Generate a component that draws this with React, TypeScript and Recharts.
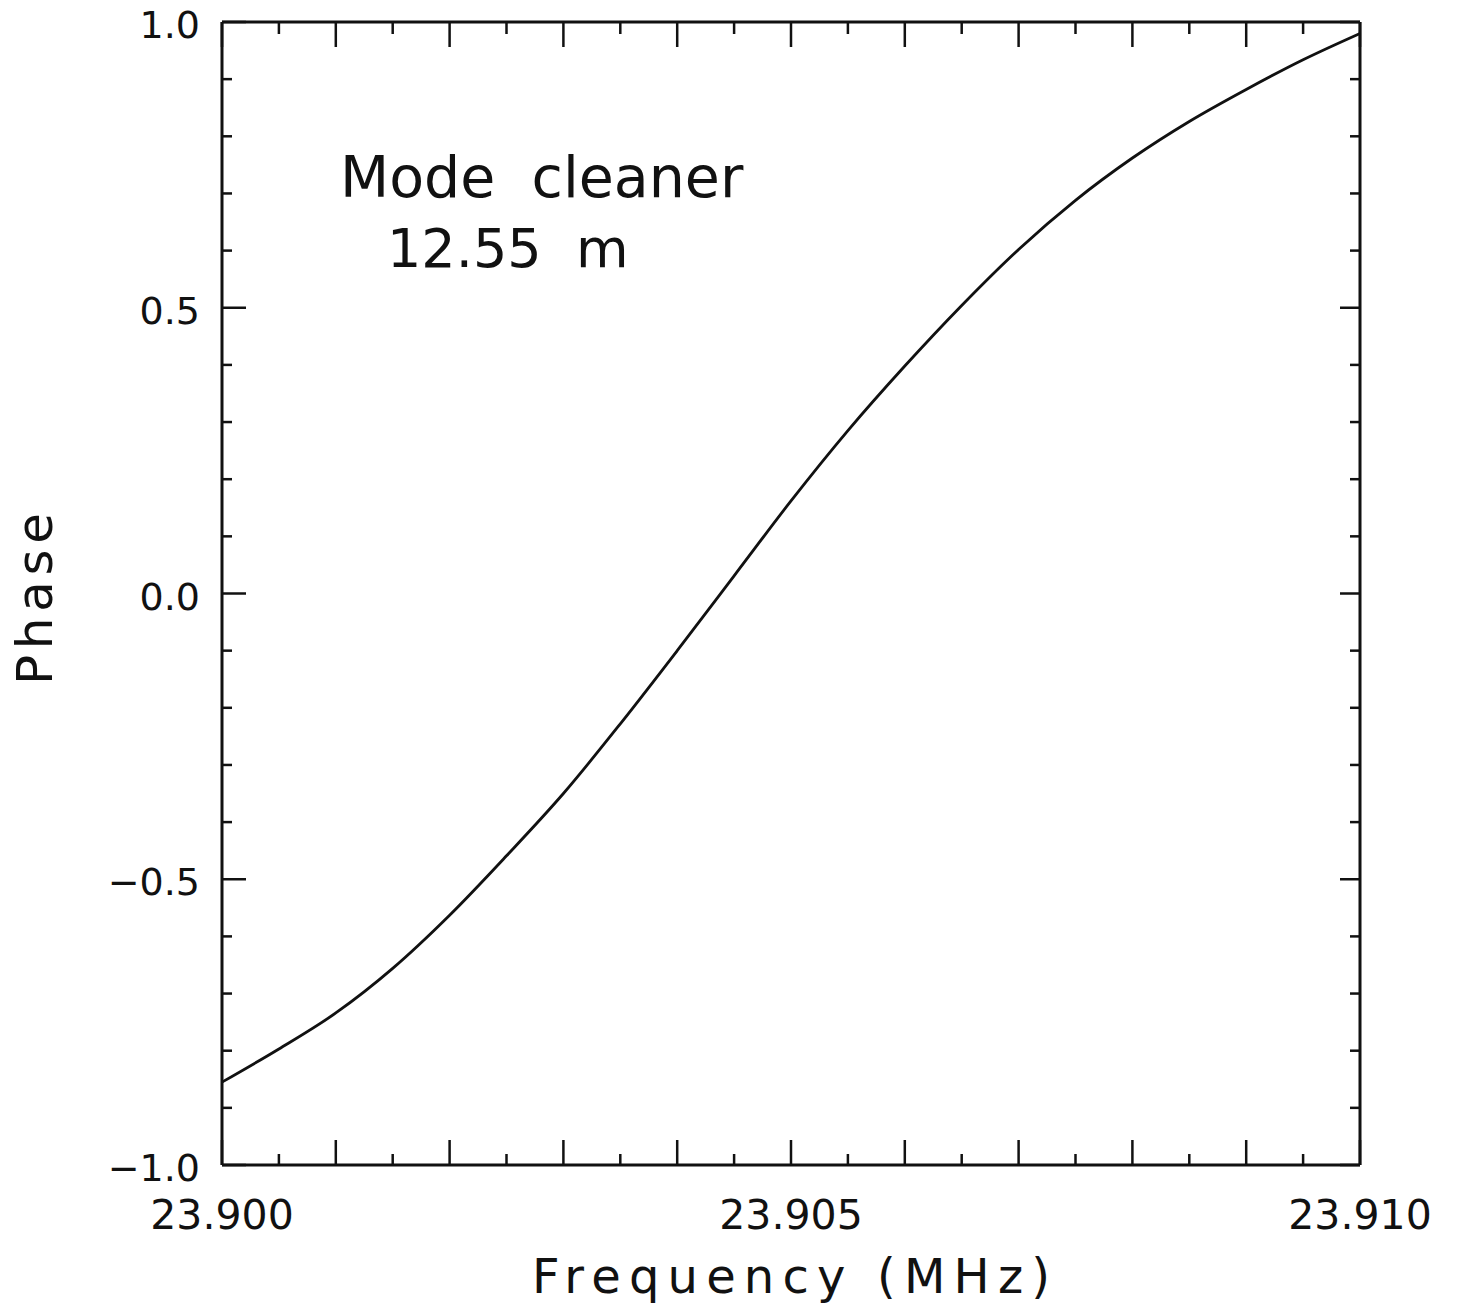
import { Line, LineChart, XAxis, YAxis } from 'recharts';

// frequency in MHz, one reading every 0.0005 MHz
const FREQ_MHZ = [
  23.9, 23.9005, 23.901, 23.9015, 23.902, 23.9025, 23.903, 23.9035, 23.904, 23.9045, 23.905,
  23.9055, 23.906, 23.9065, 23.907, 23.9075, 23.908, 23.9085, 23.909, 23.9095, 23.91,
];
const PHASE = [
  -0.855, -0.797, -0.734, -0.656, -0.563, -0.459, -0.35, -0.228, -0.1, 0.031, 0.162,
  0.285, 0.398, 0.504, 0.602, 0.688, 0.762, 0.826, 0.882, 0.934, 0.98,
];

const X_TICKS = FREQ_MHZ;
const X_LABELS = ['23.900', '23.905', '23.910'];
const Y_TICKS = [-1, -0.9, -0.8, -0.7, -0.6, -0.5, -0.4, -0.3, -0.2, -0.1, 0, 0.1, 0.2, 0.3, 0.4, 0.5, 0.6, 0.7, 0.8, 0.9, 1];
const Y_LABELS = ['−1.0', '−0.5', '0.0', '0.5', '1.0'];

const data = FREQ_MHZ.map((freq, i) => ({ freq, phase: PHASE[i] }));

const INK = '#111';
const FONT = '"DejaVu Sans", "Liberation Sans", sans-serif';

function xStep(v: number) {
  return Math.round((v - 23.9) * 2000);
}
function xLabel(v: number) {
  const s = xStep(v);
  return s % 10 === 0 ? X_LABELS[s / 10] : null;
}
function yStep(v: number) {
  return Math.round((v + 1) * 10);
}
function yLabel(v: number) {
  const s = yStep(v);
  return s % 5 === 0 ? Y_LABELS[s / 5] : null;
}

function BottomTick({ x, y, payload }: any) {
  const major = xStep(payload.value) % 2 === 0;
  const label = xLabel(payload.value);
  return (
    <g>
      <line x1={x} x2={x} y1={y} y2={y - (major ? 25 : 11)} stroke={INK} strokeWidth={2.5} />
      {label && (
        <text x={x} y={y + 64} textAnchor="middle" fontFamily={FONT} fontSize={41} fill={INK}>
          {label}
        </text>
      )}
    </g>
  );
}

function TopTick({ x, y, payload }: any) {
  const major = xStep(payload.value) % 2 === 0;
  return <line x1={x} x2={x} y1={y} y2={y + (major ? 25 : 12)} stroke={INK} strokeWidth={2.5} />;
}

function LeftTick({ x, y, payload }: any) {
  const major = yStep(payload.value) % 5 === 0;
  const label = yLabel(payload.value);
  return (
    <g>
      <line x1={x} x2={x + (major ? 24 : 10)} y1={y} y2={y} stroke={INK} strokeWidth={2.5} />
      {label && (
        <text x={x - 22} y={y + 16} textAnchor="end" fontFamily={FONT} fontSize={38} fill={INK}>
          {label}
        </text>
      )}
    </g>
  );
}

function RightTick({ x, y, payload }: any) {
  const major = yStep(payload.value) % 5 === 0;
  return <line x1={x} x2={x - (major ? 20 : 10)} y1={y} y2={y} stroke={INK} strokeWidth={2.5} />;
}

export default function App() {
  return (
    <div style={{ position: 'absolute', left: 0, top: 0, width: 1457, height: 1310, background: '#fff' }}>
      <LineChart width={1457} height={1310} data={data} margin={{ top: 21, right: 96, bottom: 85, left: 122 }}>
        <XAxis
          xAxisId="bottom"
          dataKey="freq"
          type="number"
          domain={[23.9, 23.91]}
          ticks={X_TICKS}
          interval={0}
          height={60}
          tickSize={0}
          tickMargin={0}
          tickLine={false}
          axisLine={{ stroke: INK, strokeWidth: 3 }}
          tick={<BottomTick />}
        />
        <XAxis
          xAxisId="top"
          orientation="top"
          dataKey="freq"
          type="number"
          domain={[23.9, 23.91]}
          ticks={X_TICKS}
          interval={0}
          height={1}
          tickSize={0}
          tickMargin={0}
          tickLine={false}
          axisLine={{ stroke: INK, strokeWidth: 3 }}
          tick={<TopTick />}
        />
        <YAxis
          yAxisId="left"
          type="number"
          domain={[-1, 1]}
          ticks={Y_TICKS}
          interval={0}
          width={100}
          tickSize={0}
          tickMargin={0}
          tickLine={false}
          axisLine={{ stroke: INK, strokeWidth: 3 }}
          tick={<LeftTick />}
        />
        <YAxis
          yAxisId="right"
          orientation="right"
          type="number"
          domain={[-1, 1]}
          ticks={Y_TICKS}
          interval={0}
          width={1}
          tickSize={0}
          tickMargin={0}
          tickLine={false}
          axisLine={{ stroke: INK, strokeWidth: 3 }}
          tick={<RightTick />}
        />
        <Line
          xAxisId="bottom"
          yAxisId="left"
          type="monotone"
          dataKey="phase"
          stroke={INK}
          strokeWidth={2.8}
          dot={false}
          isAnimationActive={false}
        />
        <Line
          xAxisId="top"
          yAxisId="right"
          dataKey="phase"
          stroke="none"
          dot={false}
          legendType="none"
          isAnimationActive={false}
        />
      </LineChart>
      <svg
        width={1457}
        height={1310}
        style={{ position: 'absolute', left: 0, top: 0, pointerEvents: 'none' }}
      >
        <g fontFamily={FONT} fill={INK}>
          <text x={340} y={197} fontSize={57} style={{ whiteSpace: 'pre' }}>
            {'Mode  cleaner'}
          </text>
          <text x={387} y={267} fontSize={54} style={{ whiteSpace: 'pre' }}>
            {'12.55  m'}
          </text>
          <text x={791} y={1293} fontSize={48} textAnchor="middle" textLength={518} lengthAdjust="spacing">
            Frequency (MHz)
          </text>
          <text
            x={52}
            y={599}
            fontSize={50}
            textAnchor="middle"
            textLength={172}
            lengthAdjust="spacing"
            transform="rotate(-90, 52, 599)"
          >
            Phase
          </text>
        </g>
      </svg>
    </div>
  );
}
